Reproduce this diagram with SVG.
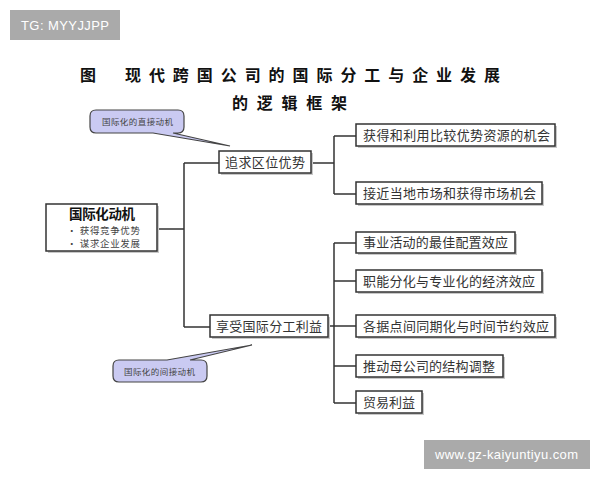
<svg xmlns="http://www.w3.org/2000/svg" width="600" height="480" viewBox="0 0 600 480">
<style>
.bx{fill:#fff;stroke:#333;stroke-width:1.5}
.sh{fill:#c8c8c8}
.t{font-family:"Noto Sans CJK SC","Noto Sans CJK JP",sans-serif;font-size:13px;fill:#333}
.tb{font-family:"Noto Sans CJK SC",sans-serif;font-size:13.5px;font-weight:bold;fill:#111}
.ts{font-family:"Noto Sans CJK SC",sans-serif;font-size:9.5px;fill:#444}
.ln{fill:none;stroke:#333;stroke-width:1.5}
.co{fill:#cacaf2;stroke:#444;stroke-width:1.2}
.ct{font-family:"Noto Sans CJK SC",sans-serif;font-size:8.5px;fill:#444}
.wm{font-family:"Liberation Sans","DejaVu Sans",sans-serif;font-size:13px;fill:#fff}
.ti{font-family:"Noto Sans CJK SC",sans-serif;font-size:16px;font-weight:bold;fill:#111}
</style>
<rect width="600" height="480" fill="#fff"/>
<g id="watermark-top"><rect x="10" y="10" width="110" height="30" fill="#aaaaaa"/><text class="wm" x="21" y="30" textLength="88">TG: MYYJJPP</text></g>
<g id="title">
<text class="ti" x="80" y="81">图</text>
<text class="ti" x="125" y="81" textLength="375">现代跨国公司的国际分工与企业发展</text>
<text class="ti" x="232" y="109" textLength="115">的逻辑框架</text>
</g>
<g id="connectors">
<path class="ln" d="M157,229 H184 M184,163 V327 M184,163 H219 M184,327 H210"/>
<path class="ln" d="M311,163 H334 M334,136 V194 M334,136 H356 M334,194 H356"/>
<path class="ln" d="M328,326 H356 M334,243 V403 M334,243 H356 M334,281 H356 M334,366 H356 M334,403 H356"/>
</g>
<g id="callout-direct">
<path class="co" d="M96,110 H178 Q184,110 184,116 V127 Q184,133 178,133 H173 L230,146 L153,133 H96 Q90,133 90,127 V116 Q90,110 96,110 Z"/>
<text class="ct" x="102" y="125" textLength="71">国际化的直接动机</text>
</g>
<g id="callout-indirect">
<path class="co" d="M119,360 H167 L252,345 L190,360 H201 Q207,360 207,366 V376 Q207,382 201,382 H119 Q113,382 113,376 V366 Q113,360 119,360 Z"/>
<text class="ct" x="124" y="375" textLength="71">国际化的间接动机</text>
</g>
<g id="node-motive">
<rect class="sh" x="48" y="206" width="111" height="47"/>
<rect class="bx" x="46" y="204" width="111" height="47"/>
<text class="tb" x="69" y="219" textLength="66">国际化动机</text>
<text class="ts" x="67" y="234" textLength="73">• 获得竞争优势</text>
<text class="ts" x="67" y="247" textLength="73">• 谋求企业发展</text>
</g>
<g id="node-location">
<rect class="sh" x="221" y="153" width="92" height="22"/>
<rect class="bx" x="219" y="151" width="92" height="22"/>
<text class="t" x="225" y="167" textLength="80">追求区位优势</text>
</g>
<g id="node-division">
<rect class="sh" x="212" y="317" width="118" height="22"/>
<rect class="bx" x="210" y="315" width="118" height="22"/>
<text class="t" x="216" y="331" textLength="106">享受国际分工利益</text>
</g>
<g id="node-r1">
<rect class="sh" x="358" y="126" width="199" height="22"/>
<rect class="bx" x="356" y="124" width="199" height="22"/>
<text class="t" x="363" y="140" textLength="187">获得和利用比较优势资源的机会</text>
</g>
<g id="node-r2">
<rect class="sh" x="358" y="184" width="186" height="22"/>
<rect class="bx" x="356" y="182" width="186" height="22"/>
<text class="t" x="363" y="198" textLength="173">接近当地市场和获得市场机会</text>
</g>
<g id="node-r3">
<rect class="sh" x="358" y="234" width="159" height="21"/>
<rect class="bx" x="356" y="232" width="159" height="21"/>
<text class="t" x="363" y="247" textLength="145">事业活动的最佳配置效应</text>
</g>
<g id="node-r4">
<rect class="sh" x="358" y="272" width="186" height="22"/>
<rect class="bx" x="356" y="270" width="186" height="22"/>
<text class="t" x="363" y="286" textLength="172">职能分化与专业化的经济效应</text>
</g>
<g id="node-r5">
<rect class="sh" x="358" y="317" width="199" height="22"/>
<rect class="bx" x="356" y="315" width="199" height="22"/>
<text class="t" x="363" y="331" textLength="186">各据点间同期化与时间节约效应</text>
</g>
<g id="node-r6">
<rect class="sh" x="358" y="357" width="147" height="22"/>
<rect class="bx" x="356" y="355" width="147" height="22"/>
<text class="t" x="363" y="371" textLength="132">推动母公司的结构调整</text>
</g>
<g id="node-r7">
<rect class="sh" x="358" y="393" width="66" height="22"/>
<rect class="bx" x="356" y="391" width="66" height="22"/>
<text class="t" x="363" y="407" textLength="52">贸易利益</text>
</g>
<g id="watermark-bottom"><rect x="424" y="440" width="166" height="29" fill="#aaaaaa"/><text class="wm" x="435" y="459" textLength="143">www.gz-kaiyuntiyu.com</text></g>
</svg>
